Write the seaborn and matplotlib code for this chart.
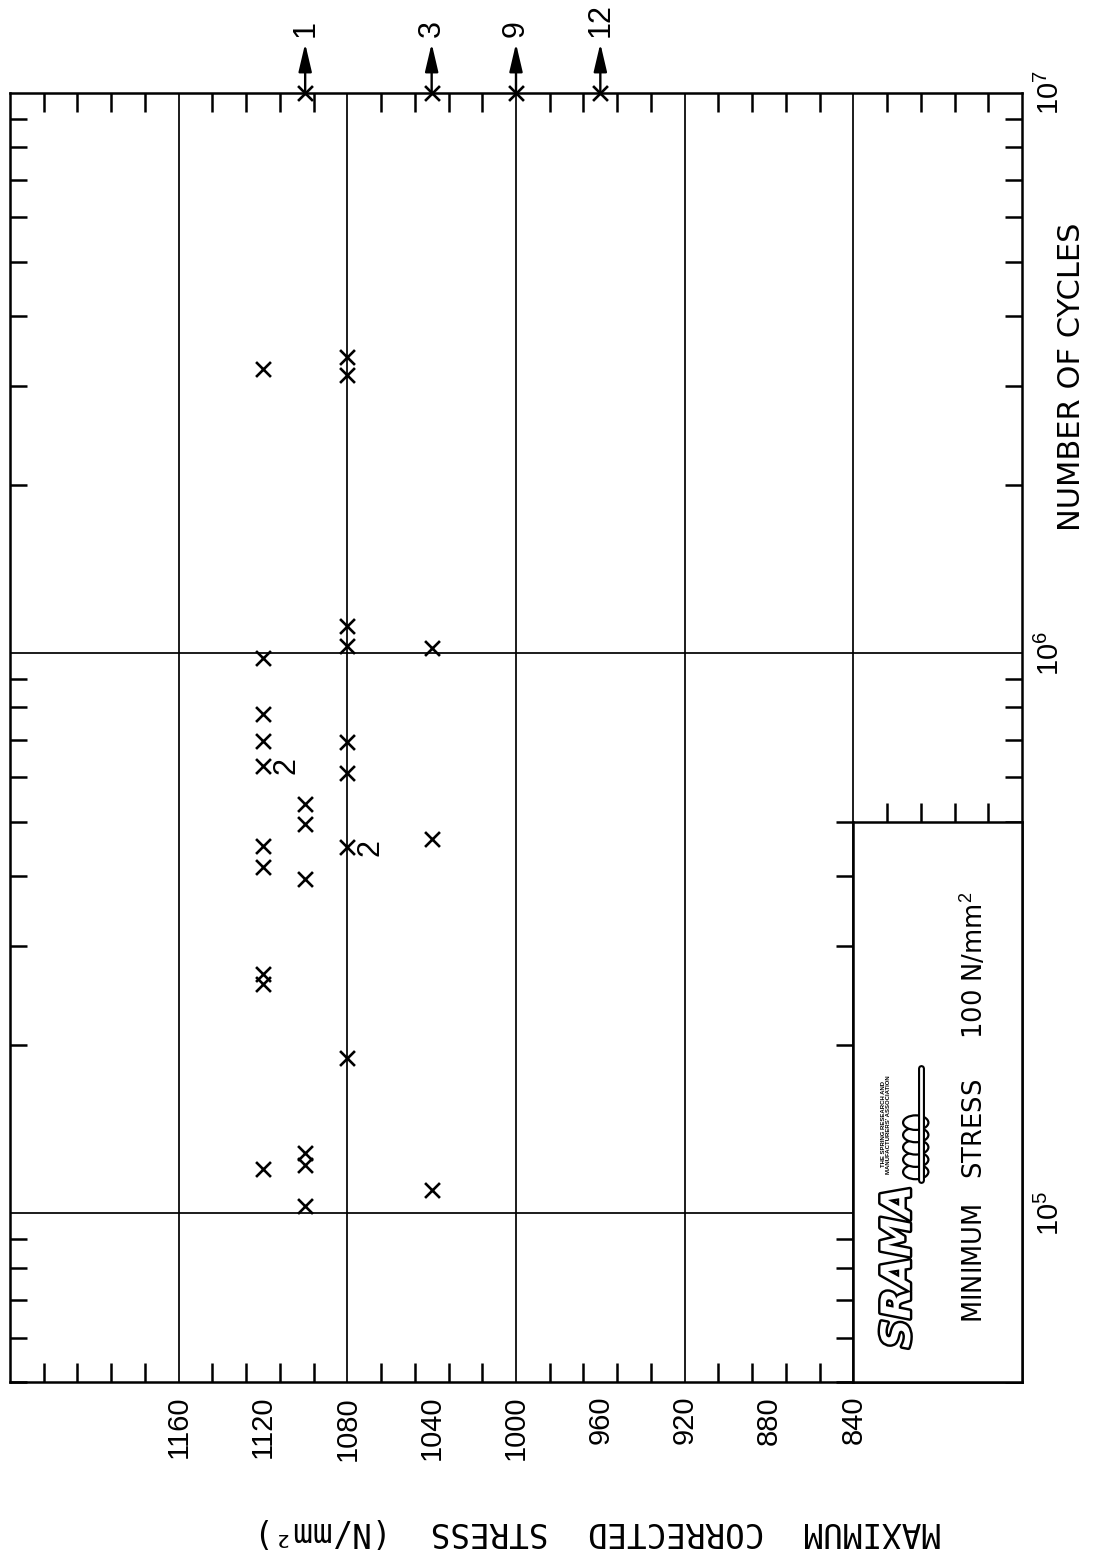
import numpy as np
import pandas as pd
import matplotlib
matplotlib.use("Agg")
import matplotlib.pyplot as plt
import matplotlib.patheffects as pe
from matplotlib.patches import Ellipse
from matplotlib.ticker import FixedLocator, FixedFormatter, LogLocator, NullFormatter
import seaborn as sns

# ---- test results: maximum corrected stress (N/mm^2) vs cycles to failure ----
fail_stress = [1120, 1120, 1120, 1120, 1120, 1120, 1120, 1120, 1120, 1120,
               1100, 1100, 1100, 1100, 1100, 1100,
               1080, 1080, 1080, 1080, 1080, 1080, 1080, 1080,
               1040, 1040, 1040]
fail_cycles = [3.22e6, 9.82e5, 7.80e5, 6.98e5, 6.30e5, 4.52e5, 4.16e5, 2.67e5, 2.57e5, 1.20e5,
               5.38e5, 4.96e5, 3.96e5, 1.28e5, 1.22e5, 1.03e5,
               3.38e6, 3.14e6, 1.12e6, 1.03e6, 6.95e5, 6.10e5, 4.50e5, 1.89e5,
               1.02e6, 4.65e5, 1.10e5]

# points standing for more than one spring
pair_stress = [1120, 1080]
pair_cycles = [6.30e5, 4.50e5]
pair_count = [2, 2]

# unbroken springs stopped at 10^7 cycles
runout_stress = [1100, 1040, 1000, 960]
runout_cycles = [1.0e7, 1.0e7, 1.0e7, 1.0e7]
runout_count = [1, 3, 9, 12]

# axis layout
stress_lim = (1240, 760)
cycle_lim = (5e4, 1e7)
stress_labels = [1160, 1120, 1080, 1040, 1000, 960, 920, 880, 840]
stress_grid = [1160, 1080, 1000, 920, 840]
cycle_labels = [1e5, 1e6, 1e7]
cycle_label_text = [r"$10^{5}$", r"$10^{6}$", r"$10^{7}$"]
cycle_grid = [1e5, 1e6]
box_top_cycles = 5e5

sns.set_style("white")
plt.rcParams["font.family"] = ["Liberation Sans", "DejaVu Sans"]
plt.rcParams["mathtext.fontset"] = "custom"
plt.rcParams["mathtext.rm"] = "Liberation Sans"
plt.rcParams["mathtext.it"] = "Liberation Sans:italic"
plt.rcParams["mathtext.bf"] = "Liberation Sans:bold"
for key in ["text.color", "axes.labelcolor", "xtick.color", "ytick.color", "axes.edgecolor"]:
    plt.rcParams[key] = "black"

W, H = 1102, 1559
fig = plt.figure(figsize=(W / 100, H / 100), dpi=100)
fig.patch.set_facecolor("white")
ax = fig.add_axes([10 / W, 1 - 1382 / H, 1012 / W, 1289 / H])

df = pd.DataFrame({"stress": fail_stress, "cycles": fail_cycles})
sns.scatterplot(data=df, x="stress", y="cycles", marker="x", s=115,
                color="black", linewidth=1.9, ax=ax, zorder=4)
runs = pd.DataFrame({"stress": runout_stress, "cycles": runout_cycles})
sns.scatterplot(data=runs, x="stress", y="cycles", marker="x", s=115,
                color="black", linewidth=1.9, ax=ax, zorder=6, clip_on=False)

ax.set_yscale("log")
ax.set_xlim(*stress_lim)
ax.set_ylim(*cycle_lim)
ax.set_xlabel("")
ax.set_ylabel("")

# grid lines
for s in stress_grid:
    ax.axvline(s, color="black", lw=1.25, zorder=1)
for c in cycle_grid:
    ax.axhline(c, color="black", lw=1.25, zorder=1)

for sp in ax.spines.values():
    sp.set_linewidth(1.8)
    sp.set_color("black")

# stress axis ticks
stress_minor = [v for v in np.arange(776, 1240, 16) if (1160 - v) % 80 != 0]
ax.xaxis.set_major_locator(FixedLocator(stress_labels))
ax.xaxis.set_major_formatter(FixedFormatter([str(v) for v in stress_labels]))
ax.xaxis.set_minor_locator(FixedLocator(stress_minor))
ax.xaxis.set_minor_formatter(NullFormatter())
ax.tick_params(axis="x", which="major", length=0, pad=10, bottom=True, top=False,
               labelbottom=True, labelsize=21, labelrotation=90)
ax.tick_params(axis="x", which="minor", direction="in", length=14, width=1.8,
               top=True, bottom=True, color="black")

# cycles axis ticks
ax.yaxis.set_major_locator(FixedLocator(cycle_labels))
ax.yaxis.set_major_formatter(FixedFormatter(cycle_label_text))
ax.yaxis.set_minor_locator(LogLocator(base=10, subs=np.arange(2, 10), numticks=30))
ax.yaxis.set_minor_formatter(NullFormatter())
ax.tick_params(axis="y", which="major", length=0, left=False, right=False,
               labelleft=False, labelright=True, pad=10, labelsize=21, labelrotation=90)
ax.tick_params(axis="y", which="minor", direction="in", length=12, width=1.8,
               left=True, right=True, color="black")
for lab in ax.get_yticklabels():
    lab.set_va("center")

# run-out arrows with the number of unbroken springs
for s, c, n in zip(runout_stress, runout_cycles, runout_count):
    ax.annotate(str(n), xy=(s, c), xytext=(0, 40), textcoords="offset points",
                rotation=90, ha="center", va="bottom", fontsize=22,
                annotation_clip=False, zorder=7,
                arrowprops=dict(arrowstyle="<|-,head_length=0.85,head_width=0.2",
                                color="black", lw=1.7, shrinkA=2, shrinkB=0,
                                mutation_scale=20))

# multiplicity labels
for s, c, n in zip(pair_stress, pair_cycles, pair_count):
    ax.annotate(str(n), xy=(s, c), xytext=(17, 0), textcoords="offset points",
                rotation=90, ha="center", va="center", fontsize=22, zorder=5)

# information box in the lower right corner
bx0, by0 = ax.transAxes.inverted().transform(ax.transData.transform((840, cycle_lim[0])))
bx1, by1 = ax.transAxes.inverted().transform(ax.transData.transform((stress_lim[1], box_top_cycles)))
box = ax.inset_axes([bx0, by0, bx1 - bx0, by1 - by0])
box.set_zorder(5)
box.set_facecolor("white")
box.set_xlim(840, stress_lim[1])
box.set_yscale("log")
box.set_ylim(cycle_lim[0], box_top_cycles)
for sp in box.spines.values():
    sp.set_linewidth(1.8)
    sp.set_color("black")
box.xaxis.set_major_locator(FixedLocator([]))
box.xaxis.set_minor_locator(FixedLocator([v for v in stress_minor if v < 840]))
box.xaxis.set_minor_formatter(NullFormatter())
box.tick_params(axis="x", which="minor", direction="out", length=14, width=1.8,
                top=True, bottom=False, labelbottom=False)
box.yaxis.set_major_locator(FixedLocator([]))
box.yaxis.set_minor_locator(LogLocator(base=10, subs=np.arange(2, 10), numticks=30))
box.yaxis.set_minor_formatter(NullFormatter())
box.tick_params(axis="y", which="minor", direction="out", length=12, width=1.8,
                left=True, right=False, labelleft=False)

box.text(0.72, 0.49, "MINIMUM   STRESS     100 N/mm$^{2}$", transform=box.transAxes,
         rotation=90, ha="center", va="center", fontsize=18.5, family=["DejaVu Sans"])

# association logo
box.text(0.27, 0.205, "SRAMA", transform=box.transAxes, rotation=90, ha="center",
         va="center", fontsize=29, fontweight="bold", style="italic", color="white",
         family=["DejaVu Sans"],
         path_effects=[pe.withStroke(linewidth=3.5, foreground="black")])
box.plot([0.40, 0.40], [0.36, 0.56], transform=box.transAxes, color="black",
         lw=5, solid_capstyle="round")
box.plot([0.40, 0.40], [0.36, 0.56], transform=box.transAxes, color="white",
         lw=2, solid_capstyle="round")
for yy in [0.375, 0.397, 0.419, 0.441, 0.463]:
    box.add_patch(Ellipse((0.37, yy), 0.15, 0.026, transform=box.transAxes,
                          facecolor="white", edgecolor="black", lw=1.6))
box.text(0.195, 0.46, "THE SPRING RESEARCH AND\nMANUFACTURERS' ASSOCIATION",
         transform=box.transAxes, rotation=90, ha="center", va="center",
         fontsize=4.3, fontweight="bold", linespacing=1.1)

# axis titles
fig.text(1072 / W, 1 - 377 / H, "NUMBER OF CYCLES", rotation=90, ha="center",
         va="center", fontsize=22, family=["DejaVu Sans"])
fig.text(598 / W, 1 - 1532 / H, "MAXIMUM  CORRECTED  STRESS  (N/mm²)", rotation=180,
         ha="center", va="center", fontsize=23.5, family=["DejaVu Sans Mono"])

fig.savefig("out.png", dpi=100, facecolor="white")
